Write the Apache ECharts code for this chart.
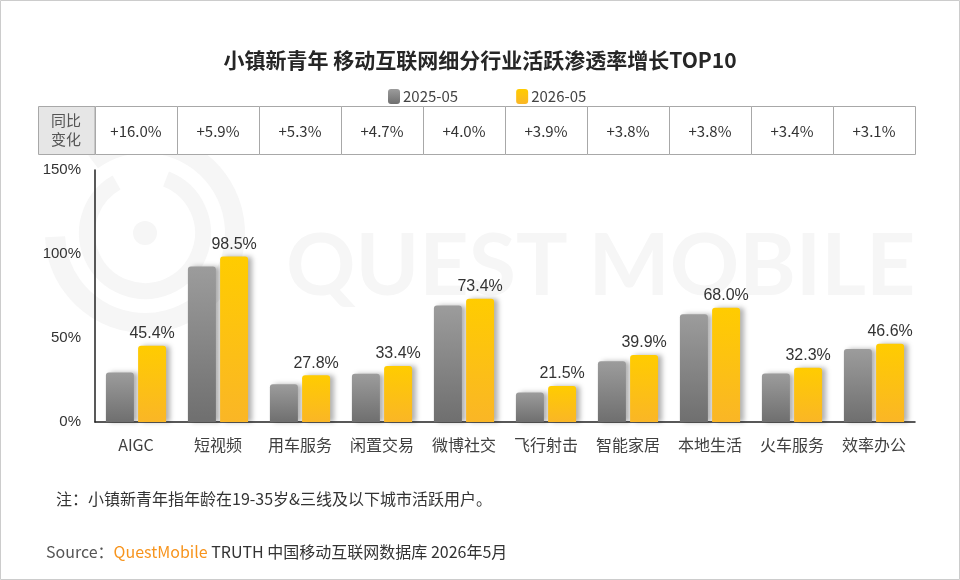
<!DOCTYPE html>
<html>
<head>
<meta charset="utf-8">
<title>小镇新青年 移动互联网细分行业活跃渗透率增长TOP10</title>
<script src="https://cdn.jsdelivr.net/npm/echarts@6/dist/echarts.min.js"></script>
<style>
  html, body { margin: 0; padding: 0; background: #fff; }
  #main { width: 960px; height: 580px; }
</style>
</head>
<body>
<div id="main"></div>
<script>
// data
var categories = ['AIGC', '短视频', '用车服务', '闲置交易', '微博社交', '飞行射击', '智能家居', '本地生活', '火车服务', '效率办公'];
var seriesNames = ['2025-05', '2026-05'];
var values2025 = [29.4, 92.6, 22.5, 28.7, 69.4, 17.6, 36.1, 64.2, 28.9, 43.5];
var values2026 = [45.4, 98.5, 27.8, 33.4, 73.4, 21.5, 39.9, 68.0, 32.3, 46.6];
var growth = [16.0, 5.9, 5.3, 4.7, 4.0, 3.9, 3.8, 3.8, 3.4, 3.1];

var CJK = "'Microsoft YaHei', 'Noto Sans CJK SC', sans-serif";
var NUM = "'Liberation Sans', Arial, sans-serif";
var WM = '#f6f6f6';

var myChart = echarts.init(document.getElementById('main'));

function grad(top, bottom) {
    return new echarts.graphic.LinearGradient(0, 0, 0, 1, [
        { offset: 0, color: top },
        { offset: 1, color: bottom }
    ]);
}

var barShadow = {
    shadowColor: 'rgba(0,0,0,0.3)',
    shadowBlur: 5,
    shadowOffsetX: 4,
    shadowOffsetY: 0
};

var option = {
    animation: false,
    textStyle: { fontFamily: CJK },
    title: {
        text: '小镇新青年 移动互联网细分行业活跃渗透率增长TOP10',
        left: 'center',
        top: 45,
        textStyle: { fontSize: 21, fontWeight: 'bold', color: '#262626', fontFamily: CJK }
    },
    legend: {
        left: 383,
        top: 84,
        itemWidth: 12,
        itemHeight: 15,
        itemGap: 58,
        icon: 'roundRect',
        textStyle: { fontSize: 15, color: '#444', padding: [0, 0, 0, -2] },
        data: seriesNames
    },
    graphic: [
        // page frame
        { type: 'rect', z: -20, shape: { x: 0.5, y: 0.5, width: 959, height: 579 },
          style: { fill: '#fff', stroke: '#cccccc', lineWidth: 1 } },
        // watermark
        { type: 'circle', z: -10, shape: { cx: 145, cy: 233, r: 12 }, style: { fill: WM } },
        { type: 'arc', z: -10, shape: { cx: 145, cy: 233, r: 58, startAngle: -1.2, endAngle: 4.2 },
          style: { fill: null, stroke: WM, lineWidth: 16 } },
        { type: 'arc', z: -10, shape: { cx: 145, cy: 233, r: 90, startAngle: -2.2, endAngle: 3.1 },
          style: { fill: null, stroke: WM, lineWidth: 20 } },
        { type: 'text', z: -10, left: 286, top: 224,
          style: { text: 'QUEST MOBILE', fontSize: 86, fontFamily: 'Lato', fontWeight: 'bold', fill: WM } },
        // header cell of the table
        { type: 'rect', z: 5, shape: { x: 38.5, y: 106.5, width: 56.5, height: 48 },
          style: { fill: '#e6e6e6', stroke: '#a8a8a8', lineWidth: 1 } },
        { type: 'text', z: 6, x: 66, y: 130,
          style: { text: '同比\n变化', fontSize: 15, lineHeight: 19, fill: '#555', align: 'center',
                   verticalAlign: 'middle', fontFamily: CJK } },
        // footnotes
        { type: 'text', left: 56, top: 491,
          style: { text: '注：小镇新青年指年龄在19-35岁&三线及以下城市活跃用户。', fontSize: 16, fill: '#333', fontFamily: CJK } },
        { type: 'text', left: 46, top: 544,
          style: {
              text: '{s|Source：}{q|QuestMobile}{t| TRUTH 中国移动互联网数据库 2026年5月}',
              rich: {
                  s: { fontSize: 16, fill: '#555', fontFamily: CJK },
                  q: { fontSize: 16, fill: '#f7941d', fontFamily: CJK },
                  t: { fontSize: 16, fill: '#333', fontFamily: CJK }
              }
          } }
    ],
    grid: [
        { left: 95, right: 45, top: 170, bottom: 158 },
        { left: 95, right: 45, top: 106, height: 48 }
    ],
    xAxis: [
        {
            type: 'category',
            data: categories,
            gridIndex: 0,
            axisLine: { lineStyle: { color: '#222', width: 1.5 } },
            axisTick: { show: false },
            axisLabel: { interval: 0, fontSize: 16, color: '#404040', margin: 15, fontFamily: CJK }
        },
        {
            type: 'category',
            data: categories,
            gridIndex: 1,
            show: false
        }
    ],
    yAxis: [
        {
            type: 'value',
            gridIndex: 0,
            min: 0,
            max: 150,
            interval: 50,
            axisLine: { show: true, lineStyle: { color: '#222', width: 1.5 } },
            axisTick: { show: false },
            splitLine: { show: false },
            axisLabel: { formatter: '{value}%', fontSize: 15, color: '#333', margin: 14, fontFamily: NUM }
        },
        {
            type: 'value',
            gridIndex: 1,
            min: 0,
            max: 1,
            show: false
        }
    ],
    series: [
        {
            name: seriesNames[0],
            type: 'bar',
            data: values2025,
            barWidth: 28,
            barGap: '15%',
            itemStyle: Object.assign({ color: grad('#9c9c9c', '#6f6f6f'), borderRadius: [3, 3, 0, 0] }, barShadow)
        },
        {
            name: seriesNames[1],
            type: 'bar',
            data: values2026,
            barWidth: 28,
            itemStyle: Object.assign({ color: grad('#ffcc00', '#fab626'), borderRadius: [3, 3, 0, 0] }, barShadow),
            label: {
                show: true,
                position: 'top',
                distance: 4,
                fontSize: 16,
                color: '#333',
                fontFamily: NUM,
                formatter: function (p) { return p.value.toFixed(1) + '%'; }
            }
        },
        {
            name: 'growth',
            type: 'custom',
            xAxisIndex: 1,
            yAxisIndex: 1,
            data: growth.map(function (g, i) { return [i, g]; }),
            renderItem: function (params, api) {
                var cs = params.coordSys;
                var c = api.coord([api.value(0), 0]);
                var w = api.size([1, 0])[0];
                var x0 = Math.round(c[0] - w / 2) + 0.5;
                return {
                    type: 'group',
                    children: [
                        {
                            type: 'rect',
                            shape: { x: x0, y: cs.y + 0.5, width: w, height: cs.height },
                            style: { fill: '#fff', stroke: '#a8a8a8', lineWidth: 1 }
                        },
                        {
                            type: 'text',
                            style: {
                                text: '+' + api.value(1).toFixed(1) + '%',
                                x: c[0], y: cs.y + cs.height / 2 + 1,
                                align: 'center', verticalAlign: 'middle',
                                fontSize: 15, fill: '#333', fontFamily: CJK
                            }
                        }
                    ]
                };
            }
        }
    ]
};

myChart.setOption(option);
</script>
</body>
</html>
